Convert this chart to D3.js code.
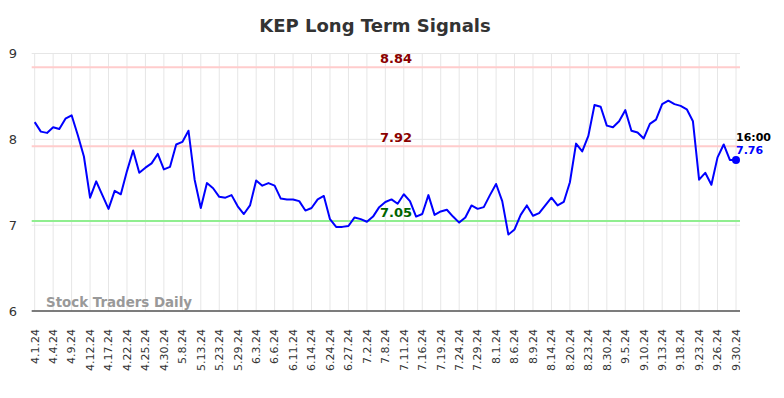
<!DOCTYPE html>
<html>
<head>
<meta charset="utf-8">
<script src="https://cdnjs.cloudflare.com/ajax/libs/d3/7.8.5/d3.min.js"></script>
<style>
    body { margin: 0; background: #fff; }
    text { font-family: "DejaVu Sans", sans-serif; }
</style>
</head>
<body>
<div id="chart"></div>
<script>
'use strict';

// closing values, one per trading day
var prices = [
    8.20, 8.09, 8.075, 8.14, 8.12, 8.24, 8.28, 8.05, 7.80, 7.32,
    7.51, 7.35, 7.19, 7.40, 7.36, 7.63, 7.87, 7.61, 7.67, 7.72,
    7.83, 7.65, 7.68, 7.94, 7.97, 8.10, 7.53, 7.20, 7.49, 7.43,
    7.33, 7.32, 7.35, 7.22, 7.13, 7.23, 7.52, 7.46, 7.49, 7.46,
    7.31, 7.30, 7.30, 7.28, 7.17, 7.20, 7.30, 7.34, 7.07, 6.98,
    6.98, 6.99, 7.09, 7.07, 7.04, 7.10, 7.21, 7.27, 7.30, 7.25,
    7.36, 7.28, 7.10, 7.13, 7.35, 7.12, 7.16, 7.18, 7.10, 7.03,
    7.09, 7.23, 7.19, 7.21, 7.35, 7.48, 7.28, 6.89, 6.95, 7.12,
    7.23, 7.11, 7.14, 7.23, 7.32, 7.23, 7.27, 7.50, 7.95, 7.86,
    8.04, 8.40, 8.38, 8.16, 8.14, 8.21, 8.34, 8.10, 8.08, 8.01,
    8.18, 8.23, 8.41, 8.45, 8.41, 8.39, 8.35, 8.21, 7.53, 7.61,
    7.47, 7.79, 7.94, 7.76, 7.76
];

// one label every third trading day
var tickLabels = [
    '4.1.24', '4.4.24', '4.9.24', '4.12.24', '4.17.24', '4.22.24', '4.25.24',
    '4.30.24', '5.8.24', '5.13.24', '5.23.24', '5.29.24', '6.3.24', '6.6.24',
    '6.11.24', '6.14.24', '6.24.24', '6.27.24', '7.2.24', '7.8.24', '7.11.24',
    '7.16.24', '7.19.24', '7.24.24', '7.29.24', '8.1.24', '8.6.24', '8.9.24',
    '8.14.24', '8.20.24', '8.23.24', '8.30.24', '9.5.24', '9.10.24', '9.13.24',
    '9.18.24', '9.23.24', '9.26.24', '9.30.24'
];
var tickStep = 3;

var yTicks = [6, 7, 8, 9];

var signalLevels = [8.84, 7.92, 7.05];
var signalKinds = ['resistance', 'resistance', 'support'];

var lastTime = '16:00';

var width = 784,
    height = 398,
    plotLeft = 34.7,
    plotRight = 736,
    plotTop = 53.5,
    plotBottom = 311;

var x = d3.scaleLinear()
    .domain([0, prices.length - 1])
    .range([plotLeft, plotRight]);

var y = d3.scaleLinear()
    .domain([6, 9])
    .range([plotBottom, plotTop]);

var svg = d3.select('#chart').append('svg')
    .attr('width', width)
    .attr('height', height);

// title
svg.append('text')
    .attr('x', 375)
    .attr('y', 32)
    .attr('text-anchor', 'middle')
    .style('font-size', '18px')
    .style('font-weight', 'bold')
    .style('fill', '#333')
    .text('KEP Long Term Signals');

// vertical grid, one per tick label
svg.append('g')
    .selectAll('line')
    .data(tickLabels)
    .enter().append('line')
    .attr('x1', function (d, i) { return x(i * tickStep); })
    .attr('x2', function (d, i) { return x(i * tickStep); })
    .attr('y1', plotTop)
    .attr('y2', plotBottom)
    .style('stroke', '#e6e6e6')
    .style('stroke-width', 1);

// horizontal grid
svg.append('g')
    .selectAll('line')
    .data(yTicks)
    .enter().append('line')
    .attr('x1', plotLeft - 3)
    .attr('x2', plotRight + 4)
    .attr('y1', function (d) { return y(d); })
    .attr('y2', function (d) { return y(d); })
    .style('stroke', '#e6e6e6')
    .style('stroke-width', 1);

// y axis labels
svg.append('g')
    .selectAll('text')
    .data(yTicks)
    .enter().append('text')
    .attr('x', 13)
    .attr('y', function (d) { return y(d); })
    .attr('dy', '0.35em')
    .attr('text-anchor', 'middle')
    .style('font-size', '13px')
    .style('fill', '#333')
    .text(function (d) { return d; });

// bottom axis line
svg.append('line')
    .attr('x1', plotLeft - 3)
    .attr('x2', plotRight + 4)
    .attr('y1', plotBottom)
    .attr('y2', plotBottom)
    .style('stroke', '#555')
    .style('stroke-width', 1.5);

// x labels, rotated
svg.append('g')
    .selectAll('text')
    .data(tickLabels)
    .enter().append('text')
    .attr('transform', function (d, i) {
        return 'translate(' + x(i * tickStep) + ',' + 329 + ') rotate(-90)';
    })
    .attr('dy', '0.35em')
    .attr('text-anchor', 'end')
    .style('font-size', '11px')
    .style('fill', '#333')
    .text(function (d) { return d; });

// watermark
svg.append('text')
    .attr('x', 46)
    .attr('y', 307)
    .style('font-size', '13.4px')
    .style('font-weight', 'bold')
    .style('fill', '#999')
    .text('Stock Traders Daily');

// signal lines
var levels = svg.append('g')
    .selectAll('g')
    .data(signalLevels)
    .enter().append('g');

levels.append('line')
    .attr('x1', plotLeft - 3)
    .attr('x2', plotRight + 4)
    .attr('y1', function (d) { return y(d); })
    .attr('y2', function (d) { return y(d); })
    .style('stroke', function (d, i) {
        return signalKinds[i] === 'support' ? '#90ee90' : '#ffcccc';
    })
    .style('stroke-width', 2);

levels.append('text')
    .attr('x', 396)
    .attr('y', function (d) { return y(d) - 4; })
    .attr('text-anchor', 'middle')
    .style('font-size', '13px')
    .style('font-weight', 'bold')
    .style('fill', function (d, i) {
        return signalKinds[i] === 'support' ? '#006400' : '#8b0000';
    })
    .text(function (d) { return d.toFixed(2); });

// price line
var line = d3.line()
    .x(function (d, i) { return x(i); })
    .y(function (d) { return y(d); });

svg.append('path')
    .datum(prices)
    .attr('d', line)
    .style('fill', 'none')
    .style('stroke', '#0000ff')
    .style('stroke-width', 2)
    .style('stroke-linejoin', 'round');

// last point
var lastIndex = prices.length - 1;
var lastPrice = prices[lastIndex];

svg.append('circle')
    .attr('cx', x(lastIndex))
    .attr('cy', y(lastPrice))
    .attr('r', 4)
    .style('fill', '#0000ff');

svg.append('text')
    .attr('x', x(lastIndex))
    .attr('y', y(lastPrice) - 19)
    .style('font-size', '11px')
    .style('font-weight', 'bold')
    .style('fill', '#000')
    .text(lastTime);

svg.append('text')
    .attr('x', x(lastIndex))
    .attr('y', y(lastPrice) - 6)
    .style('font-size', '11px')
    .style('font-weight', 'bold')
    .style('fill', '#0000ff')
    .text(lastPrice.toFixed(2));
</script>
</body>
</html>
